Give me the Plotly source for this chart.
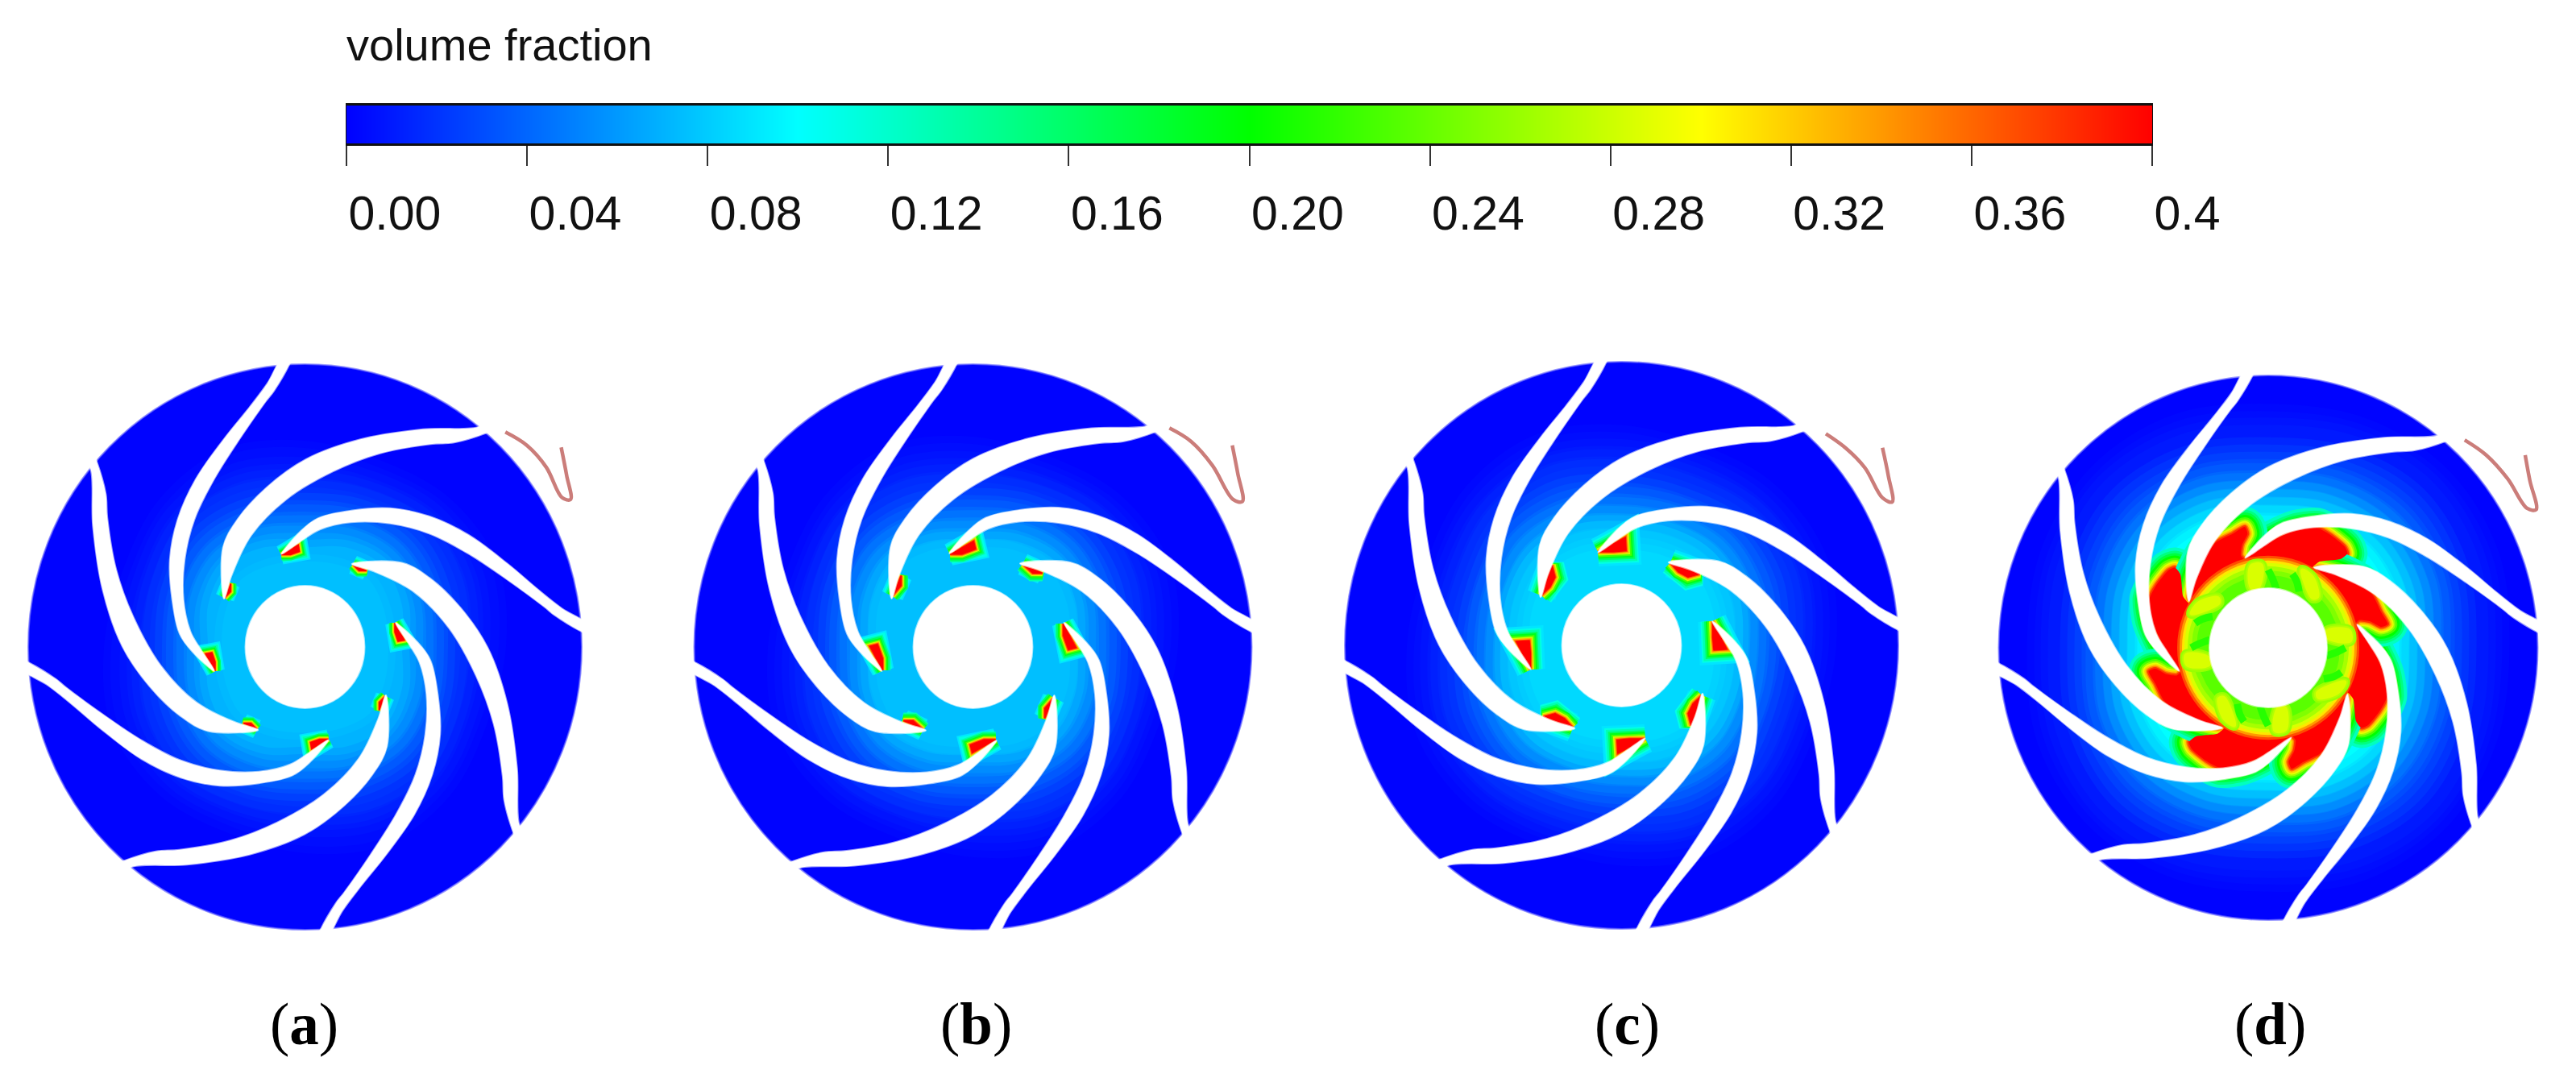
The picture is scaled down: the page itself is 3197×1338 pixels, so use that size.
import numpy as np
import plotly.graph_objects as go
from plotly.colors import sample_colorscale

# colour scale of the contour legend
VF_MAX = 0.4
COLORSCALE = [[0.0, "#0000ff"], [0.25, "#00ffff"], [0.5, "#00ff00"], [0.75, "#ffff00"], [1.0, "#ff0000"]]
BAR_VALUES = [0.0, 0.1, 0.2, 0.3, 0.4]
TICK_VALUES = [0.0, 0.04, 0.08, 0.12, 0.16, 0.20, 0.24, 0.28, 0.32, 0.36, 0.4]
TICK_LABELS = ["0.00", "0.04", "0.08", "0.12", "0.16", "0.20", "0.24", "0.28", "0.32", "0.36", "0.4"]

# panels: label, centre, disc radii, hub radii, blade scale (the source picture is stretched a little in y)
PANEL_LABELS = ["a", "b", "c", "d"]
PANEL_CX = [378.5, 1207.5, 2012.5, 2815]
PANEL_CY = [803, 803, 801, 804]
PANEL_RX = [343.5, 346, 343.5, 334.5]
PANEL_RY = [351, 351, 352, 338]
PANEL_HUB_X = [74, 74, 74, 73]
PANEL_HUB_Y = [76, 76, 76, 74]
PANEL_SCALE = [1.0, 1.005, 1.0, 0.98]
PANEL_UNIT_Y = [2.01, 2.01, 2.01, 2.04]
LABEL_X = [377, 1211, 2019, 2817]
UNIT_X = 2.063

BLADE_A_X = [722, 770, 815, 900, 1000, 1100, 1200, 1300, 1380, 1440, 1505, 1505, 1487, 1420, 1395, 1300, 1200, 1100, 1000, 900, 820, 770]
BLADE_A_Y = [576, 520, 487, 468, 462, 482, 528, 600, 666, 712, 752, 775, 768, 728, 708, 640, 575, 525, 500, 497, 515, 545]
BLADE_B_X = [902, 1030, 1100, 1180, 1250, 1300, 1325, 1332, 1350, 1325, 1315, 1292, 1288, 1265, 1220, 1150, 1060, 960]
BLADE_B_Y = [601, 598, 635, 710, 810, 950, 1110, 1255, 1272, 1292, 1270, 1190, 1130, 1000, 880, 760, 670, 620]

# red hand-drawn mark next to each impeller
MARK_X = [[1295, 1350, 1400, 1440, 1462, 1452, 1438], [1285, 1340, 1395, 1448, 1472, 1460, 1446],
          [1305, 1355, 1405, 1450, 1475, 1465, 1450], [1285, 1340, 1395, 1445, 1468, 1452, 1440]]
MARK_Y = [[272, 305, 360, 435, 440, 380, 310], [262, 295, 355, 440, 445, 375, 305],
          [280, 315, 365, 440, 450, 385, 315], [282, 320, 380, 455, 458, 385, 320]]

# hot spots at the blade tips, panels a, b, c (same units as the blades)
TIP_A_X = [[722, 765, 768, 745], [724, 784, 789, 754], [722, 792, 794, 762]]
TIP_A_Y = [[578, 553, 570, 578], [578, 545, 565, 578], [575, 538, 572, 575]]
TIP_B_X = [[905, 940, 920], [909, 959, 934], [907, 982, 952, 927]]
TIP_B_Y = [[603, 618, 618], [603, 625, 625], [603, 630, 638, 625]]
TIP_HALO_VALUES = [0.09, 0.11, 0.13, 0.16, 0.19, 0.23, 0.28, 0.33, 0.37]
TIP_HALO_WIDTHS = [[24, 20, 17, 14, 11, 8, 6, 4, 2], [28, 24, 20, 17, 13, 10, 7, 5, 3], [36, 30, 26, 21, 17, 13, 9, 6, 3]]

# volume fraction contours: value, then radius in px at 0, 22.5, 45 and 67.5 degrees (repeats every 90)
GLOW_VALUES = [0.005, 0.01, 0.015, 0.02, 0.03, 0.04, 0.05, 0.06, 0.07, 0.075]
GLOW_A = [[245, 255, 250, 240], [225, 235, 235, 225], [210, 220, 222, 212], [198, 208, 212, 202], [182, 190, 195, 188],
          [168, 175, 180, 174], [155, 162, 168, 162], [142, 150, 156, 150], [125, 135, 142, 135], [108, 112, 118, 112]]
GLOW_B = [[250, 260, 255, 245], [232, 242, 240, 230], [216, 226, 228, 218], [204, 214, 218, 208], [188, 196, 200, 194],
          [174, 181, 186, 180], [161, 168, 174, 168], [148, 156, 162, 156], [135, 143, 150, 143], [125, 132, 138, 132]]
GLOW_C = [[262, 272, 268, 258], [245, 255, 252, 244], [232, 242, 240, 230], [220, 230, 228, 218], [202, 212, 212, 202],
          [188, 196, 198, 190], [175, 183, 186, 178], [164, 172, 174, 167], [153, 160, 163, 156], [146, 153, 156, 150]]
GLOW_C_INNER_VALUES = [0.08, 0.085]
GLOW_C_INNER = [[136, 142, 146, 140], [120, 126, 130, 124]]
GLOW_D_VALUES = [0.005, 0.01, 0.02, 0.03, 0.04, 0.05, 0.06, 0.07, 0.08, 0.09, 0.10]
GLOW_D = [[295, 305, 308, 302], [278, 288, 293, 286], [254, 264, 270, 262], [236, 246, 251, 244], [222, 232, 236, 230],
          [210, 220, 224, 218], [200, 210, 214, 208], [190, 200, 204, 198], [180, 190, 194, 188], [170, 180, 184, 178],
          [158, 168, 172, 166]]

# panel (d): red lobes, orange patches and green streaks; centre is (700, 612), 3 units per pixel
LOBE_1_X = [612, 640, 720, 800, 880, 930, 985, 995, 970, 890, 870, 855, 770, 680, 620]
LOBE_1_Y = [285, 262, 215, 180, 170, 195, 240, 265, 285, 295, 310, 325, 300, 285, 295]
LOBE_2_X = [880, 960, 1040, 1090, 1120, 1145, 1120, 1080, 1040, 1020, 1000, 965, 920]
LOBE_2_Y = [318, 335, 375, 420, 480, 525, 535, 515, 510, 525, 510, 440, 370]
LOBE_HALO_VALUES = [0.125, 0.15, 0.175, 0.2, 0.23, 0.26, 0.29, 0.32, 0.35, 0.38]
LOBE_HALO_WIDTHS = [50, 42, 36, 30, 24, 19, 15, 11, 7, 4]
RING_RADII = [113, 110, 107, 104, 100, 95, 89]
RING_VALUES = [0.37, 0.34, 0.31, 0.285, 0.265, 0.25, 0.235]
PATCH_1_X = [635, 675, 675, 655, 635]
PATCH_1_Y = [310, 305, 365, 400, 390]
PATCH_2_X = [825, 865, 885, 865, 840]
PATCH_2_Y = [325, 350, 425, 430, 385]
PATCH_VALUES = [0.26, 0.27, 0.285]
PATCH_WIDTHS = [12, 7, 3]
STREAK_1_X = [700, 715, 730]
STREAK_1_Y = [325, 355, 395]
STREAK_2_X = [790, 805, 815]
STREAK_2_Y = [340, 365, 405]


def vf_color(value):
    return sample_colorscale(COLORSCALE, value / VF_MAX)[0]


def four_fold(xs, ys, ox, oy, ux, uy, cx, cy, scale=1.0, closed=True):
    """Repeats an outline at the 4 quarter turns, separated by None so that it is one trace."""
    out_x, out_y = [], []
    rx = (np.array(xs, dtype=float) - ox) * scale
    ry = (np.array(ys, dtype=float) - oy) * scale
    if closed:
        rx = np.append(rx, rx[0])
        ry = np.append(ry, ry[0])
    for k in range(4):
        out_x += list(cx + rx / ux) + [None]
        out_y += list(cy + ry / uy) + [None]
        rx, ry = ry, -rx
    return out_x, out_y


def add_poly(fig, x, y, fill, line_color=None, width=0, shape="linear", smoothing=1.0):
    fig.add_trace(go.Scatter(
        x=x, y=y, mode="lines", fill="toself", fillcolor=fill,
        line=dict(color=line_color or fill, width=width, shape=shape, smoothing=smoothing),
        hoverinfo="skip", showlegend=False,
    ))


def add_contours(fig, values, table, cx, cy, stretch, previous=0.001):
    # the outline takes the colour half way to the next contour out, which softens the steps
    for value, radii in zip(values, table):
        angles = np.deg2rad(np.arange(0, 360, 22.5))
        rr = np.array(radii * 4, dtype=float)
        x = list(cx + rr * np.cos(angles)) + [cx + rr[0]]
        y = list(cy - stretch * rr * np.sin(angles)) + [cy]
        add_poly(fig, x, y, vf_color(value), line_color=vf_color((value + previous) / 2), width=9, shape="spline")
        previous = value


fig = go.Figure()

# colour bar, on its own axes
fig.add_trace(go.Heatmap(
    x=BAR_VALUES, y=[0, 1], z=[BAR_VALUES, BAR_VALUES], zmin=0, zmax=VF_MAX,
    colorscale=COLORSCALE, zsmooth="best", showscale=False, hoverinfo="skip",
    xaxis="x2", yaxis="y2",
))

shapes = []
annotations = []
glow_tables = [(GLOW_VALUES, GLOW_A), (GLOW_VALUES, GLOW_B), (GLOW_VALUES, GLOW_C), (GLOW_D_VALUES, GLOW_D)]

for i, name in enumerate(PANEL_LABELS):
    cx, cy, scale = PANEL_CX[i], PANEL_CY[i], PANEL_SCALE[i]
    rx, ry, hx, hy = PANEL_RX[i], PANEL_RY[i], PANEL_HUB_X[i], PANEL_HUB_Y[i]
    unit_y = PANEL_UNIT_Y[i]
    stretch = UNIT_X / unit_y

    shapes.append(dict(type="circle", xref="x", yref="y", x0=cx - rx, x1=cx + rx, y0=cy - ry, y1=cy + ry,
                       fillcolor=vf_color(0.001), line=dict(color="rgba(110,110,255,0.7)", width=2), layer="below"))

    add_contours(fig, glow_tables[i][0], glow_tables[i][1], cx, cy, stretch)
    if i == 2:
        add_contours(fig, GLOW_C_INNER_VALUES, GLOW_C_INNER, cx, cy, stretch, previous=0.075)

    if i < 3:
        # small hot spots on the blade tips
        for tx, ty in ((TIP_A_X[i], TIP_A_Y[i]), (TIP_B_X[i], TIP_B_Y[i])):
            x, y = four_fold(tx, ty, 782, 808, UNIT_X, unit_y, cx, cy, scale)
            for value, width in zip(TIP_HALO_VALUES, TIP_HALO_WIDTHS[i]):
                add_poly(fig, x, y, vf_color(value), width=width)
            add_poly(fig, x, y, "#ff0000", width=1)
    else:
        # panel d: large red lobes around a mixed ring
        lobe_uy = 3 / stretch
        for lx, ly in ((LOBE_1_X, LOBE_1_Y), (LOBE_2_X, LOBE_2_Y)):
            x, y = four_fold(lx, ly, 700, 612, 3, lobe_uy, cx, cy)
            for value, width in zip(LOBE_HALO_VALUES, LOBE_HALO_WIDTHS):
                add_poly(fig, x, y, vf_color(value), width=width, shape="spline", smoothing=0.6)
        for lx, ly in ((LOBE_1_X, LOBE_1_Y), (LOBE_2_X, LOBE_2_Y)):
            x, y = four_fold(lx, ly, 700, 612, 3, lobe_uy, cx, cy)
            add_poly(fig, x, y, "#ff0000", shape="spline", smoothing=0.6)
        for radius, value in zip(RING_RADII, RING_VALUES):
            angles = np.deg2rad(np.arange(0, 361, 5))
            add_poly(fig, list(cx + radius * np.cos(angles)), list(cy + stretch * radius * np.sin(angles)), vf_color(value))
        for px_, py_ in ((PATCH_1_X, PATCH_1_Y), (PATCH_2_X, PATCH_2_Y)):
            x, y = four_fold(px_, py_, 700, 612, 3, lobe_uy, cx, cy)
            for value, width in zip(PATCH_VALUES, PATCH_WIDTHS):
                add_poly(fig, x, y, vf_color(value), width=width, shape="spline")
        for sx, sy in ((STREAK_1_X, STREAK_1_Y), (STREAK_2_X, STREAK_2_Y)):
            x, y = four_fold(sx, sy, 700, 612, 3, lobe_uy, cx, cy, closed=False)
            fig.add_trace(go.Scatter(x=x, y=y, mode="lines", line=dict(color=vf_color(0.215), width=9, shape="spline"),
                                     hoverinfo="skip", showlegend=False))

    # blades go on top and hide whatever the contours spilled
    for bx, by in ((BLADE_A_X, BLADE_A_Y), (BLADE_B_X, BLADE_B_Y)):
        x, y = four_fold(bx, by, 782, 808, UNIT_X, unit_y, cx, cy, scale)
        add_poly(fig, x, y, "#ffffff", line_color="rgba(255,255,255,0.6)", width=2, shape="spline", smoothing=1.0)

    shapes.append(dict(type="circle", xref="x", yref="y", x0=cx - hx, x1=cx + hx, y0=cy - hy, y1=cy + hy,
                       fillcolor="#ffffff", line=dict(color="rgba(255,255,255,0.6)", width=2), layer="above"))

    fig.add_trace(go.Scatter(
        x=[cx + (v - 782) / UNIT_X for v in MARK_X[i]], y=[cy + (v - 808) / unit_y for v in MARK_Y[i]],
        mode="lines", line=dict(color="#cb7d7a", width=4.5, shape="spline"), hoverinfo="skip", showlegend=False,
    ))

    annotations.append(dict(x=LABEL_X[i], y=1271, xref="x", yref="y", showarrow=False,
                            text=f"(<b>{name}</b>)", font=dict(family="Liberation Serif", size=73, color="#000000")))

annotations.append(dict(x=428, y=55, xref="x", yref="y", xanchor="left", showarrow=False, text="volume fraction",
                        font=dict(family="Liberation Sans", size=56, color="#111111")))

fig.update_layout(
    width=3197, height=1338,
    margin=dict(t=0, b=0, l=0, r=0),
    paper_bgcolor="#ffffff", plot_bgcolor="#ffffff",
    shapes=shapes, annotations=annotations, showlegend=False,
    xaxis=dict(range=[0, 3197], visible=False, domain=[0, 1], fixedrange=True, automargin=False),
    yaxis=dict(range=[1338, 0], visible=False, domain=[0, 1], fixedrange=True, automargin=False),
    xaxis2=dict(
        domain=[430 / 3197, 2671 / 3197], range=[0, VF_MAX], anchor="y2", automargin=False,
        tickmode="array", tickvals=TICK_VALUES, ticktext=TICK_LABELS,
        ticks="outside", ticklen=25, tickwidth=2, tickcolor="#333333",
        ticklabelposition="outside right", ticklabelstandoff=33,
        tickfont=dict(family="Liberation Sans", size=59, color="#111111"),
        showline=True, linecolor="#111111", linewidth=3, mirror=True, showgrid=False, zeroline=False,
    ),
    yaxis2=dict(
        domain=[(1338 - 178) / 1338, (1338 - 131) / 1338], range=[0, 1], anchor="x2", automargin=False,
        showticklabels=False, ticks="", showline=True, linecolor="#111111", linewidth=1, mirror=True,
        showgrid=False, zeroline=False,
    ),
)

# the browser's default body margin would push the figure off by 8 px
fig.write_html("out.html", config={"displayModeBar": False}, post_script="document.body.style.margin = '0';")
